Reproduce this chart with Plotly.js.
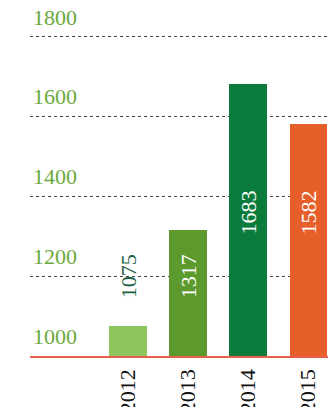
<!DOCTYPE html>
<html>
<head>
<meta charset="utf-8">
<script src="https://cdn.plot.ly/plotly-3.0.1.min.js"></script>
<style>
html,body{margin:0;padding:0;background:#fff;}
#chart{width:328px;height:407px;}
#err{position:absolute;top:0;left:0;font:10px monospace;color:red;width:320px;}
</style>
</head>
<body>
<div id="chart"></div>
<div id="err"></div>
<script>
window.onerror = function(m){ document.getElementById('err').textContent += m + ' | '; };
// Data
const years = ['2012', '2013', '2014', '2015'];
const values = [1075, 1317, 1683, 1582];
const valueLabels = ['1075', '1317', '1683', '1582'];
const yTickValues = [1000, 1200, 1400, 1600, 1800];
const yTickLabels = ['1000', '1200', '1400', '1600', '1800'];

// Styles / positions (not data)
const barColors = ['#8cc45e', '#5c9a2e', '#0b7b3b', '#e65f2a'];
const labelColors = ['#1d5f46', '#ffffff', '#ffffff', '#ffffff'];
const labelY = [1200, 1200, 1360, 1360];
const serif = 'Liberation Serif, Times New Roman, serif';

const trace = {
  type: 'bar',
  x: years,
  y: values,
  width: 0.62,
  marker: {color: barColors},
  hoverinfo: 'skip'
};

const annotations = years.map((yr, i) => ({
  x: i, y: labelY[i], xref: 'x', yref: 'y',
  text: valueLabels[i], textangle: -90, showarrow: false,
  font: {family: serif, size: 22, color: labelColors[i]},
  xanchor: 'center', yanchor: 'middle'
}));

const layout = {
  width: 328, height: 407,
  margin: {l: 30, r: 0, t: 35, b: 51, pad: 0},
  paper_bgcolor: '#ffffff',
  plot_bgcolor: '#ffffff',
  showlegend: false,
  xaxis: {
    type: 'category',
    range: [-1.63, 3.33],
    showgrid: false, zeroline: false,
    showline: true, linecolor: '#e8604a', linewidth: 1.5,
    ticks: '', tickangle: -90,
    ticklabelstandoff: 3,
    tickfont: {family: serif, size: 22, color: '#111111'},
    fixedrange: true
  },
  yaxis: {
    range: [1000, 1805],
    tickvals: yTickValues, ticktext: yTickLabels,
    ticklabelposition: 'inside',
    ticklabeloverflow: 'allow',
    ticklabelshift: -20,
    ticks: '',
    showline: false, zeroline: false,
    showgrid: true, gridcolor: '#444444', griddash: 'dot', gridwidth: 1,
    tickfont: {family: serif, size: 22, color: '#6aa83c'},
    fixedrange: true
  },
  annotations: annotations,
  bargap: 0
};

Plotly.newPlot('chart', [trace], layout, {displayModeBar: false, staticPlot: true})
  .catch(e => { document.getElementById('err').textContent += 'ERR ' + e; });
</script>
</body>
</html>
